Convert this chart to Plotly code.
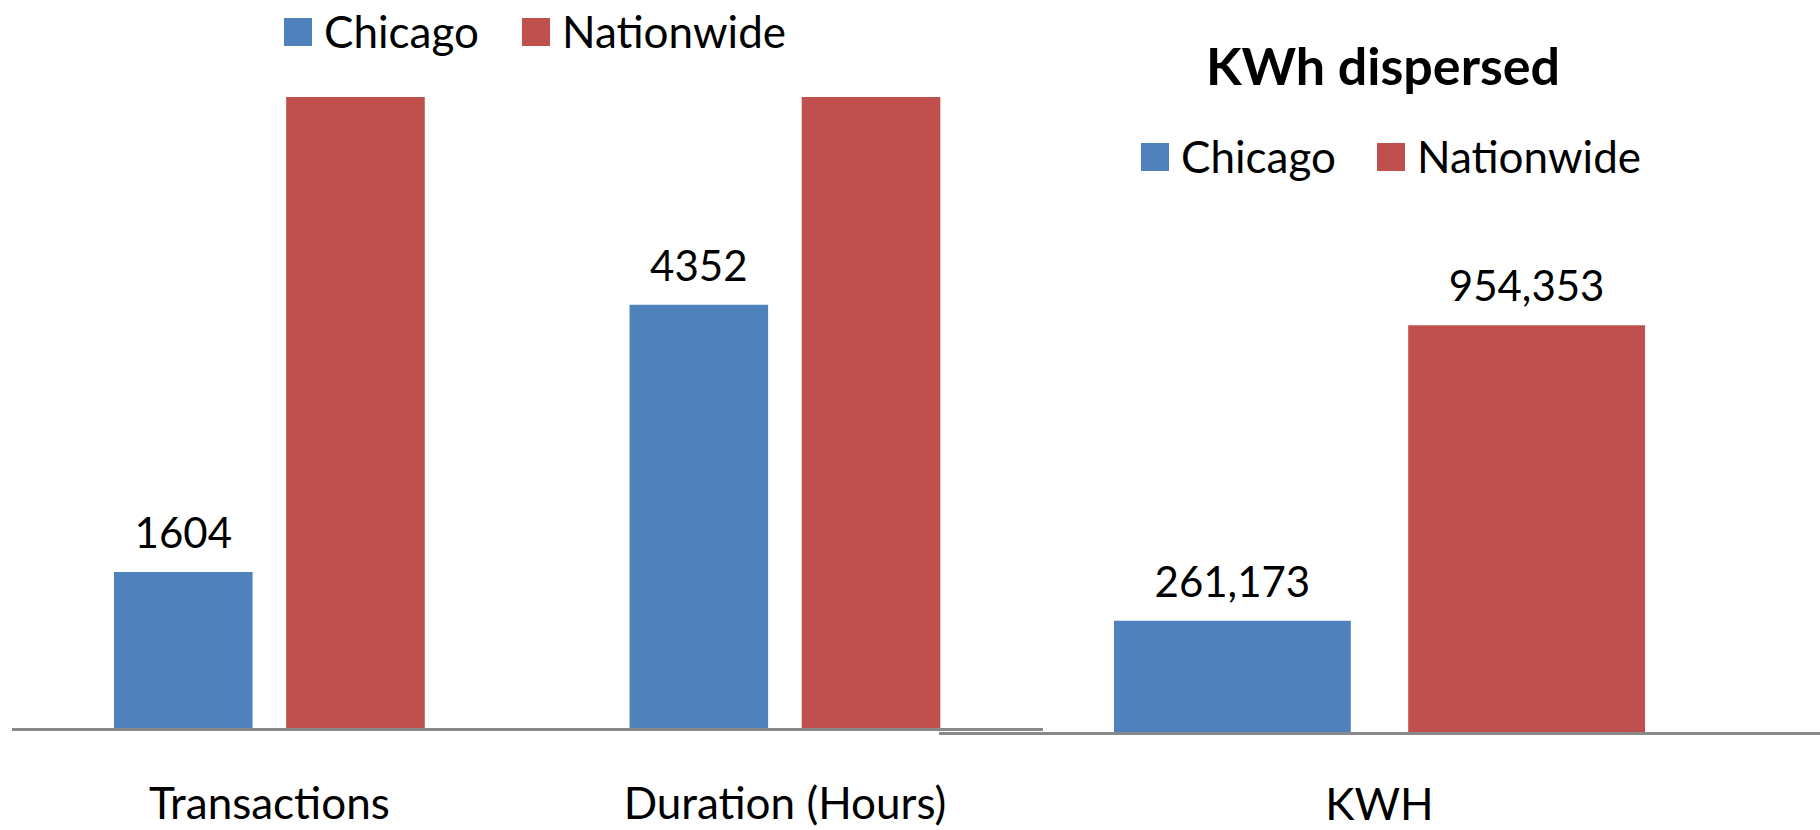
import plotly.graph_objects as go

W, H = 1820, 830

# ---- data ----
categories_left = ["Transactions", "Duration (Hours)"]
chicago_left = [1604, 4352]
nationwide_left = [6490, 6490]   # bars run off the top of the chart; visible height only
categories_right = ["KWH"]
chicago_right = [261173]
nationwide_right = [954353]
series_names = ["Chicago", "Nationwide"]
series_colors = ["#4F81BD", "#C0504D"]
right_title = "KWh dispersed"

FONT = "Lato"
FS_VAL = 42
FS_LBL = 44

# invisible wide-descent spacers so outside labels sit a little higher above bars
PAD = "<span style='font-size:100px'>&nbsp;</span>"


def px(x):
    return x / W


def py(y):
    return 1 - y / H


val_font = dict(family=FONT, size=FS_VAL, color="black")

fig = go.Figure()

# left chart
fig.add_trace(go.Bar(
    name=series_names[0], x=categories_left, y=chicago_left,
    marker=dict(color=series_colors[0], line=dict(width=0)),
    texttemplate=PAD + "%{y:d}" + PAD, textposition="outside", cliponaxis=False,
    constraintext="none", textfont=val_font,
    xaxis="x", yaxis="y", showlegend=False,
))
fig.add_trace(go.Bar(
    name=series_names[1], x=categories_left, y=nationwide_left,
    marker=dict(color=series_colors[1], line=dict(width=0)),
    xaxis="x", yaxis="y", showlegend=False,
))
# right chart
fig.add_trace(go.Bar(
    name=series_names[0], x=categories_right, y=chicago_right,
    marker=dict(color=series_colors[0], line=dict(width=0)),
    texttemplate=PAD + "%{y:,}" + PAD, textposition="outside", cliponaxis=False,
    constraintext="none", textfont=val_font,
    xaxis="x2", yaxis="y2", showlegend=False,
))
fig.add_trace(go.Bar(
    name=series_names[1], x=categories_right, y=nationwide_right,
    marker=dict(color=series_colors[1], line=dict(width=0)),
    texttemplate=PAD + "%{y:,}" + PAD, textposition="outside", cliponaxis=False,
    constraintext="none", textfont=val_font,
    xaxis="x2", yaxis="y2", showlegend=False,
))

axis_common = dict(showline=True, linecolor="#898989", linewidth=3, ticks="",
                   showgrid=False, zeroline=False, fixedrange=True, automargin=False,
                   tickfont=dict(family=FONT, size=FS_LBL, color="black"))
yaxis_common = dict(visible=False, showgrid=False, zeroline=False, fixedrange=True,
                    automargin=False)

# manual legends (large square swatches)
shapes = []
annotations = []
legend_specs = [
    # (first square left x, square top y, second square left x) in pixels
    (284, 18, 522),
    (1141, 143, 1377),
]
for sx, sy, sx2 in legend_specs:
    for i, lx in enumerate([sx, sx2]):
        shapes.append(dict(type="rect", xref="paper", yref="paper",
                           x0=px(lx), x1=px(lx + 28), y0=py(sy + 28), y1=py(sy),
                           fillcolor=series_colors[i], line=dict(width=0)))
        annotations.append(dict(text=series_names[i], xref="paper", yref="paper",
                                x=px(lx + 38), y=py(sy + 13), xanchor="left", yanchor="middle",
                                showarrow=False,
                                font=dict(family=FONT, size=FS_LBL, color="black")))

fig.update_layout(
    width=W, height=H,
    margin=dict(l=0, r=0, t=0, b=0, autoexpand=False),
    paper_bgcolor="white", plot_bgcolor="rgba(0,0,0,0)",
    barmode="group", bargap=0.332, bargroupgap=0.195,
    xaxis=dict(domain=[px(11.6), px(1042.7)], anchor="y", ticklabelstandoff=35, **axis_common),
    yaxis=dict(domain=[py(728), py(97)], range=[0, 6490], anchor="x", **yaxis_common),
    xaxis2=dict(domain=[px(939), 1.0], anchor="y2", ticklabelstandoff=32, **axis_common),
    yaxis2=dict(domain=[py(732), py(97)], range=[0, 1.49e6], anchor="x2", **yaxis_common),
    title=dict(text=right_title, x=px(1383), xanchor="center", xref="paper",
               y=py(67), yanchor="middle", yref="paper", automargin=False,
               font=dict(family=FONT, size=52, color="black", weight="bold")),
    shapes=shapes,
    annotations=annotations,
    showlegend=False,
    hovermode=False,
)

fig.write_html(
    "out.html",
    config={"displayModeBar": False, "responsive": False},
    post_script="document.body.style.margin='0';document.body.style.overflow='hidden';",
)
